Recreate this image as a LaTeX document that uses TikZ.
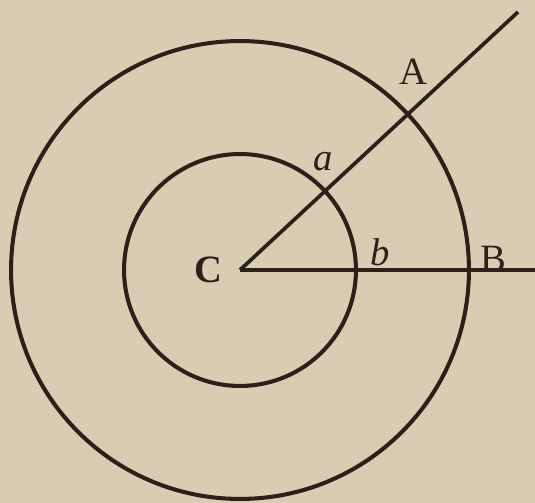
\documentclass[tikz,border=0pt]{standalone}
\usepackage{fontspec}
\setmainfont{Liberation Serif}
\usetikzlibrary{positioning, calc}
\definecolor{ink}  {HTML}{2A211A}
\definecolor{paper}{HTML}{D8CCB3}
\tikzset{
  circ/.style  = {draw=ink, line width=2.3pt},
  ray/.style   = {draw=ink, line width=2.1pt},
  lbl/.style   = {text=ink, inner sep=0pt, font=\fontsize{22}{26}\selectfont},
  lblit/.style = {lbl, font=\fontsize{22}{26}\selectfont\itshape},
}

\begin{document}
\begin{tikzpicture}[x=0.02cm, y=-0.02cm]

  % paper
  \fill[paper] (0,0) rectangle (535,503);
  \useasboundingbox (0,0) rectangle (535,503);

  % centre and far ends of the rays
  \coordinate (ctr)  at (240,270);
  \coordinate (endA) at (518,12);
  \coordinate (endB) at (535,270);

  % the two circles
  \draw[circ] (ctr) circle (4.58cm);
  \draw[circ] (ctr) circle (2.32cm);

  % rays
  \draw[ray] (ctr) -- (endA);
  \draw[ray] (ctr) -- (endB);

  % letters
  \node[lbl, font=\fontsize{22}{26}\selectfont\bfseries, left=0.34cm of ctr] (C) {C};
  \node[lbl]   (A) at (413,72)  {A};
  \node[lbl]   (B) at (493,259) {B};
  \node[lblit] (a) at (323,162) {a};
  \node[lblit] (b) at (380,252) {b};

\end{tikzpicture}
\end{document}
